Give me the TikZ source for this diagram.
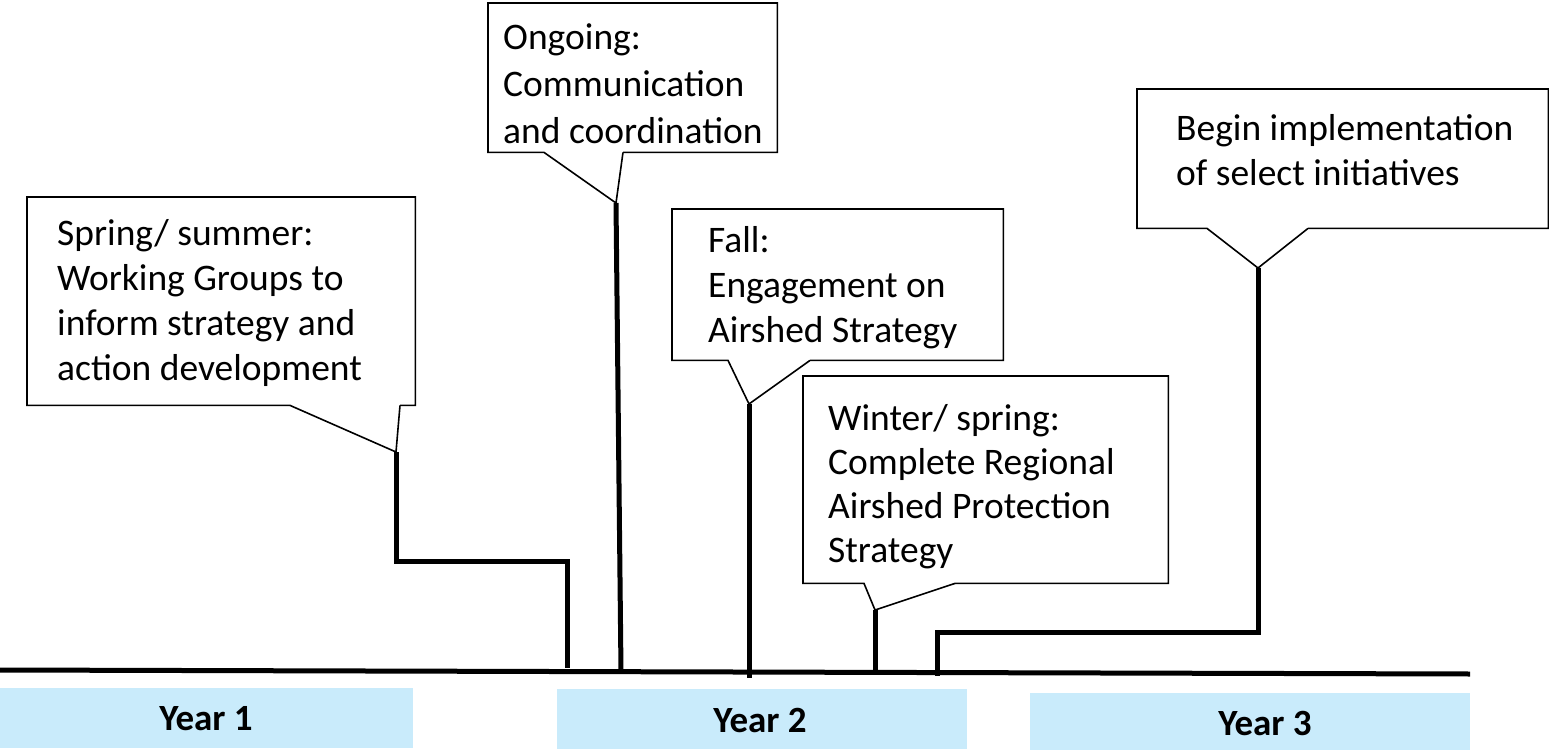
\documentclass[tikz,border=0pt]{standalone}
\usepackage{fontspec}
\setmainfont{Carlito}
\usetikzlibrary{calc}
\definecolor{yearblue}{RGB}{201,235,251}
\tikzset{
  boxarea/.style={draw=none,inner sep=0pt,anchor=north west},
  callouttext/.style={inner sep=0pt,anchor=north west,align=left,font=\fontsize{37.5}{45}\selectfont},
  outline/.style={draw=black,line width=1.6pt,line join=miter},
  stem/.style={draw=black,line width=5pt,line join=miter},
  yearbox/.style={fill=yearblue,draw=none,inner sep=0pt,anchor=north west},
  yeartext/.style={inner sep=0pt,anchor=base,font=\bfseries\fontsize{37}{44}\selectfont},
}
\begin{document}
\begin{tikzpicture}[x=1pt,y=-1pt]
\useasboundingbox (0,0) rectangle (1549,751);

% timeline
\coordinate (tlL) at (0,670);
\coordinate (tlR) at (1470,674);
\draw[stem] (tlL) -- (tlR);

% year boxes
\node[yearbox,minimum width=413pt,minimum height=60pt] (y1) at (0,688) {};
\node[yearbox,minimum width=410pt,minimum height=60pt] (y2) at (557,689) {};
\node[yearbox,minimum width=440pt,minimum height=57pt] (y3) at (1030,693) {};
\node[yeartext] (l1) at (206,730) {Year 1};
\node[yeartext] (l2) at (760,732) {Year 2};
\node[yeartext] (l3) at (1265,735) {Year 3};

% callout 1
\node[boxarea,minimum width=388pt,minimum height=208pt] (b1) at (27,197) {};
\node[callouttext] (t1) at (57,213.5) {\strut Spring/ summer:\\Working Groups to\\inform strategy and\\action development};
\coordinate (p1a) at ($(b1.south west)+(263,0)$);
\coordinate (p1b) at ($(b1.south west)+(373,0)$);
\coordinate (k1) at (396,452);
\draw[outline] (p1b) -- (b1.south east) -- (b1.north east) -- (b1.north west) -- (b1.south west) -- (p1a) -- (k1) -- (p1b);
\coordinate (d1) at (567,668);
\draw[stem] (k1) -- ++(0,109) -| (d1);

% callout 2
\node[boxarea,minimum width=289pt,minimum height=149pt] (b2) at (488,3) {};
\node[callouttext,font=\fontsize{37.5}{47}\selectfont] (t2) at (503,16.1) {\strut Ongoing:\\Communication\\and coordination};
\coordinate (p2a) at ($(b2.south west)+(56,0)$);
\coordinate (p2b) at ($(b2.south west)+(135,0)$);
\coordinate (k2) at (616,203);
\draw[outline] (p2b) -- (b2.south east) -- (b2.north east) -- (b2.north west) -- (b2.south west) -- (p2a) -- (k2) -- (p2b);
\coordinate (d2) at (621,672);
\draw[stem] (k2) -- (d2);

% callout 3
\node[boxarea,minimum width=331pt,minimum height=151pt] (b3) at (672,209) {};
\node[callouttext] (t3) at (708,220.5) {\strut Fall:\\Engagement on\\Airshed Strategy};
\coordinate (p3a) at ($(b3.south west)+(56,0)$);
\coordinate (p3b) at ($(b3.south west)+(138,0)$);
\coordinate (k3) at (749,404);
\draw[outline] (p3b) -- (b3.south east) -- (b3.north east) -- (b3.north west) -- (b3.south west) -- (p3a) -- (k3) -- (p3b);
\coordinate (d3) at (749,678);
\draw[stem] (k3) -- (d3);

% callout 4
\node[boxarea,minimum width=365pt,minimum height=207pt] (b4) at (803,376) {};
\node[callouttext,font=\fontsize{37.5}{44}\selectfont] (t4) at (828,399.2) {\strut Winter/ spring:\\Complete Regional\\Airshed Protection\\Strategy};
\coordinate (p4a) at ($(b4.south west)+(61,0)$);
\coordinate (p4b) at ($(b4.south west)+(152,0)$);
\coordinate (k4) at (875,610);
\draw[outline] (p4b) -- (b4.south east) -- (b4.north east) -- (b4.north west) -- (b4.south west) -- (p4a) -- (k4) -- (p4b);
\coordinate (d4) at (875,674);
\draw[stem] (k4) -- (d4);

% callout 5
\node[boxarea,minimum width=411pt,minimum height=139pt] (b5) at (1137,89) {};
\node[callouttext] (t5) at (1176,108.5) {\strut Begin implementation\\of select initiatives};
\coordinate (p5a) at ($(b5.south west)+(70,0)$);
\coordinate (p5b) at ($(b5.south west)+(171,0)$);
\coordinate (k5) at (1258,268);
\draw[outline] (p5b) -- (b5.south east) -- (b5.north east) -- (b5.north west) -- (b5.south west) -- (p5a) -- (k5) -- (p5b);
\coordinate (d5) at (937,676);
\draw[stem] (k5) -- (1258,632) -| (d5);
\end{tikzpicture}
\end{document}
